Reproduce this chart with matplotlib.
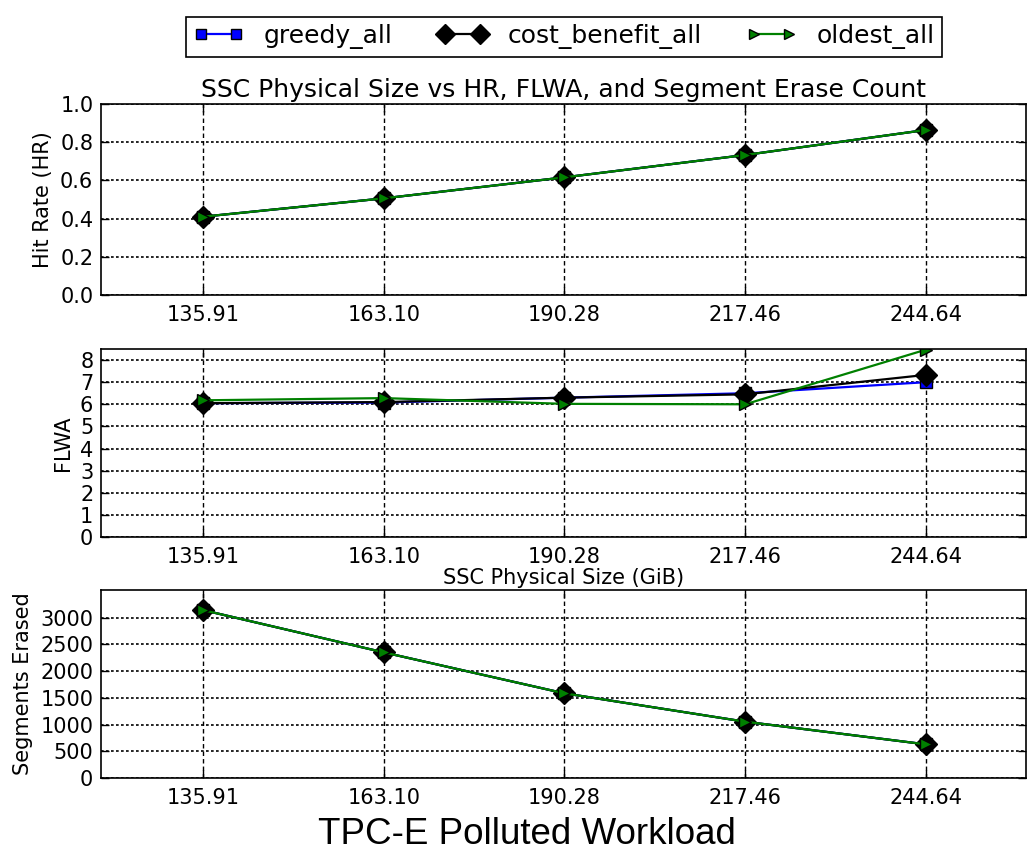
import matplotlib
matplotlib.use("Agg")
import matplotlib.pyplot as plt

sizes = [135.91, 163.10, 190.28, 217.46, 244.64]
size_labels = ["135.91", "163.10", "190.28", "217.46", "244.64"]

series_names = ["greedy_all", "cost_benefit_all", "oldest_all"]

hr_greedy = [0.41, 0.506, 0.616, 0.733, 0.864]
hr_cost_benefit = [0.41, 0.506, 0.616, 0.733, 0.864]
hr_oldest = [0.41, 0.506, 0.616, 0.733, 0.864]

flwa_greedy = [6.05, 6.08, 6.3, 6.5, 7.0]
flwa_cost_benefit = [6.05, 6.1, 6.3, 6.45, 7.33]
flwa_oldest = [6.18, 6.28, 6.02, 6.0, 8.47]

erase_greedy = [3144, 2352, 1585, 1054, 630]
erase_cost_benefit = [3144, 2352, 1585, 1054, 630]
erase_oldest = [3144, 2352, 1585, 1054, 630]

styles = [
    dict(color="#0000ff", marker="s", markersize=8, markerfacecolor="#0000ff", markeredgecolor="#000000"),
    dict(color="#000000", marker="D", markersize=11, markerfacecolor="#000000", markeredgecolor="#000000"),
    dict(color="#008000", marker=">", markersize=8, markerfacecolor="#008000", markeredgecolor="#000000"),
]

W, H = 1028, 865
fig = plt.figure(figsize=(W / 100, H / 100), dpi=100)
plt.rcParams["font.family"] = "DejaVu Sans"

left = 101 / W
width = 925 / W
panels = [
    (104, 295),
    (349, 537),
    (590, 778),
]
axes = []
for top, bot in panels:
    ax = fig.add_axes([left, 1 - bot / H, width, (bot - top) / H])
    axes.append(ax)

data = [
    (hr_greedy, hr_cost_benefit, hr_oldest),
    (flwa_greedy, flwa_cost_benefit, flwa_oldest),
    (erase_greedy, erase_cost_benefit, erase_oldest),
]
ylabels = ["Hit Rate (HR)", "FLWA", "Segments Erased"]
ylims = [(0, 1.0), (0, 8.5), (0, 3520)]
yticks = [[0.0, 0.2, 0.4, 0.6, 0.8, 1.0], list(range(0, 9)), list(range(0, 3001, 500))]
yfmt = [lambda v: f"{v:.1f}", lambda v: f"{int(v)}", lambda v: f"{int(v)}"]

lines = []
for i, ax in enumerate(axes):
    for j, ys in enumerate(data[i]):
        ln, = ax.plot(sizes, ys, linewidth=1.6, label=series_names[j], clip_on=True, **styles[j])
        if i == 0:
            lines.append(ln)
    ax.set_xlim(120.57, 259.7)
    ax.set_ylim(*ylims[i])
    ax.set_xticks(sizes)
    ax.set_xticklabels(size_labels, fontsize=15)
    ax.set_yticks(yticks[i])
    ax.set_yticklabels([yfmt[i](v) for v in yticks[i]], fontsize=15)
    ax.set_ylabel(ylabels[i], fontsize=15, labelpad=5)
    ax.tick_params(direction="in", length=6, width=1, top=True, right=True, pad=5.5)
    ax.tick_params(axis="x", pad=7)
    ax.xaxis.grid(True, color="black", linewidth=1.0, linestyle=(0, (3.2, 2.2)))
    ax.yaxis.grid(True, color="black", linewidth=1.2, linestyle=(0, (1.6, 1.4)))
    for s in ax.spines.values():
        s.set_linewidth(1.2)

axes[0].set_title("SSC Physical Size vs HR, FLWA, and Segment Erase Count", fontsize=18, pad=5)
axes[1].set_xlabel("SSC Physical Size (GiB)", fontsize=15, labelpad=1)

leg = fig.legend(handles=lines, labels=series_names, loc="upper center", ncol=3,
                 bbox_to_anchor=(564 / W, 1 - 4 / H), fontsize=18, numpoints=2,
                 fancybox=False, edgecolor="black", framealpha=1, handlelength=2.0,
                 handletextpad=0.8, columnspacing=1.8, borderpad=0.3, markerscale=0.9)
leg.get_frame().set_linewidth(1.2)

fig.text(527 / W, 1 - 835 / H, "TPC-E Polluted Workload", ha="center", va="center",
         fontsize=26.5, family="Liberation Sans")

fig.savefig("out.png", dpi=100)
